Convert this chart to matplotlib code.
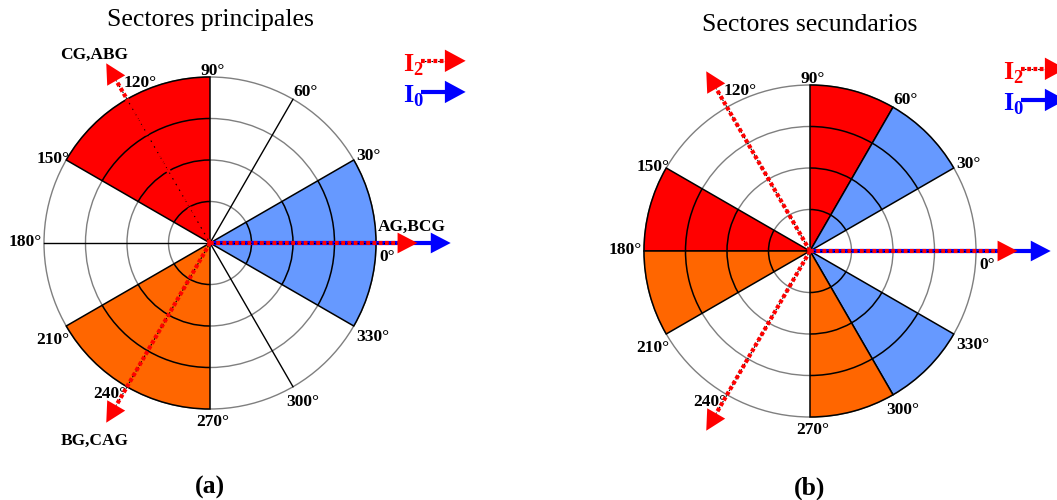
import numpy as np
import matplotlib
matplotlib.use("Agg")
import matplotlib.pyplot as plt
from matplotlib.patches import Wedge, Arc, Circle, Polygon

plt.rcParams["font.family"] = ["Liberation Serif", "DejaVu Serif"]
plt.rcParams["mathtext.fontset"] = "custom"
plt.rcParams["mathtext.rm"] = "Liberation Serif"
plt.rcParams["mathtext.bf"] = "Liberation Serif:bold"

# ---- data -------------------------------------------------------------
RED = "#FF0000"
BLUE = "#6699FF"
ORANGE = "#FF6600"

# principal sectors (degrees)
main_start = [90, -30, 210]
main_end = [150, 30, 270]
main_colors = [RED, BLUE, ORANGE]
main_radials = [60, 180, 300]

# secondary sectors (degrees)
sec_start = [60, 150, 30, -60, 180, 270]
sec_end = [90, 180, 60, -30, 210, 300]
sec_colors = [RED, RED, BLUE, BLUE, ORANGE, ORANGE]
sec_radials = []

ring_radii = [1, 2, 3, 4]
tick_angles = [0, 30, 60, 90, 120, 150, 180, 210, 240, 270, 300, 330]

i2_angles = [0, 120, 240]
i2_length = 5.0
i0_angles = [0]
i0_length = 5.8

main_fault_labels = ["AG,BCG", "CG,ABG", "BG,CAG"]
main_fault_angles = [0, 120, 240]

key_labels = [r"$\mathbf{I}_{\mathbf{2}}$", r"$\mathbf{I}_{\mathbf{0}}$"]

# ---- layout -----------------------------------------------------------
W, H = 1057, 500
S = 41.5  # pixels per ring unit
fig = plt.figure(figsize=(W / 100, H / 100), dpi=100)

LABEL_FS = 12.5

# label placement per angle: (ha, va, dx_px, dy_px)
tick_style = {
    0: ("left", "top", 3, -6),
    30: ("left", "center", 2, 4),
    60: ("left", "bottom", 0, -1),
    90: ("center", "bottom", 3, -2),
    120: ("left", "bottom", -3, 8),
    150: ("right", "center", 3, 1),
    180: ("right", "center", -2, 1),
    210: ("right", "top", 3, -6),
    240: ("right", "top", -1, 1),
    270: ("center", "top", 3, -5),
    300: ("center", "top", 10, -7),
    330: ("left", "top", 2, -3),
}


def make_axes(x0, x1, cx, cy):
    ax = fig.add_axes([x0 / W, 0, (x1 - x0) / W, 1])
    ax.set_xlim((x0 - cx) / S, (x1 - cx) / S)
    ax.set_ylim(-(H - cy) / S, cy / S)
    ax.axis("off")
    return ax


def arrow(ax, ang, length, color, dotted, origin=(0.0, 0.0), lw=3.0,
          head_len=0.48, head_w=0.25, z=5):
    a = np.deg2rad(ang)
    u = np.array([np.cos(a), np.sin(a)])
    n = np.array([-u[1], u[0]])
    o = np.array(origin)
    base = o + (length - head_len) * u
    tip = o + length * u
    if dotted:
        ax.plot([o[0], base[0]], [o[1], base[1]], color="black", lw=0.8,
                ls=(0, (1.5, 1.5)), zorder=z, solid_capstyle="butt")
        ax.plot([o[0], base[0]], [o[1], base[1]], color=color, lw=lw,
                ls=(0, (0.9, 0.6)), zorder=z + 0.1, dash_capstyle="butt")
    else:
        ax.plot([o[0], base[0]], [o[1], base[1]], color=color, lw=lw,
                zorder=z, solid_capstyle="butt")
    ax.add_patch(Polygon([tip, base + head_w * n, base - head_w * n],
                         closed=True, fc=color, ec="none", zorder=z + 0.2))


def draw_panel(ax, starts, ends, colors, radials, title, title_y, tag, tag_y):
    rmax = ring_radii[-1]
    for r in ring_radii:
        ax.add_patch(Circle((0, 0), r, fill=False, ec="#7f7f7f", lw=1.0, zorder=1))
    for a0, a1, c in zip(starts, ends, colors):
        ax.add_patch(Wedge((0, 0), rmax, a0, a1, fc=c, ec="black", lw=1.1, zorder=2))
        for r in ring_radii[:-1]:
            ax.add_patch(Arc((0, 0), 2 * r, 2 * r, theta1=a0, theta2=a1,
                             color="black", lw=1.1, zorder=3))
    for ang in radials:
        a = np.deg2rad(ang)
        ax.plot([0, rmax * np.cos(a)], [0, rmax * np.sin(a)], color="black",
                lw=1.0, zorder=3)
    # angle labels
    for ang in tick_angles:
        a = np.deg2rad(ang)
        ha, va, dx, dy = tick_style[ang]
        ax.annotate(f"{ang}°", xy=(rmax * np.cos(a), rmax * np.sin(a)),
                    xytext=(dx, dy), textcoords="offset pixels",
                    ha=ha, va=va, fontsize=LABEL_FS, fontweight="bold", zorder=6)
    # phasors: I0 under I2
    for ang in i0_angles:
        arrow(ax, ang, i0_length, "#0000FF", dotted=False)
    for ang in i2_angles:
        arrow(ax, ang, i2_length, RED, dotted=True, z=6)
    # key
    for label, color, y, dotted in [(key_labels[0], RED, 4.39, True),
                                    (key_labels[1], "#0000FF", 3.64, False)]:
        ax.text(4.66, y - 0.1, label, color=color, fontsize=19, ha="left",
                va="center", zorder=7)
        arrow(ax, 0, 1.08, color, dotted=dotted, origin=(5.08, y), lw=3.0,
              head_len=0.5, head_w=0.27, z=7)
    ax.text(0, title_y, title, ha="center", va="center", fontsize=18.5)
    ax.text(0, tag_y, tag, ha="center", va="center", fontsize=18.5,
            fontweight="bold")


ax_a = make_axes(0, 528, 210, 243)
draw_panel(ax_a, main_start, main_end, main_colors, main_radials,
           "Sectores principales", 5.37, "(a)", -5.9)

# fault-type labels next to the principal I2 phasors
label_style = {0: ("left", "bottom", 4.0, (2, 8)),
               120: ("center", "bottom", i2_length, (-12, 0)),
               240: ("center", "top", i2_length, (-12, -10))}
for lbl, ang in zip(main_fault_labels, main_fault_angles):
    ha, va, r, off = label_style[ang]
    a = np.deg2rad(ang)
    ax_a.annotate(lbl, xy=(r * np.cos(a), r * np.sin(a)), xytext=off,
                  textcoords="offset pixels", ha=ha, va=va,
                  fontsize=LABEL_FS, fontweight="bold")

ax_b = make_axes(528, 1057, 810, 251)
draw_panel(ax_b, sec_start, sec_end, sec_colors, sec_radials,
           "Sectores secundarios", 5.45, "(b)", -5.71)

fig.savefig("out.png", dpi=100)
